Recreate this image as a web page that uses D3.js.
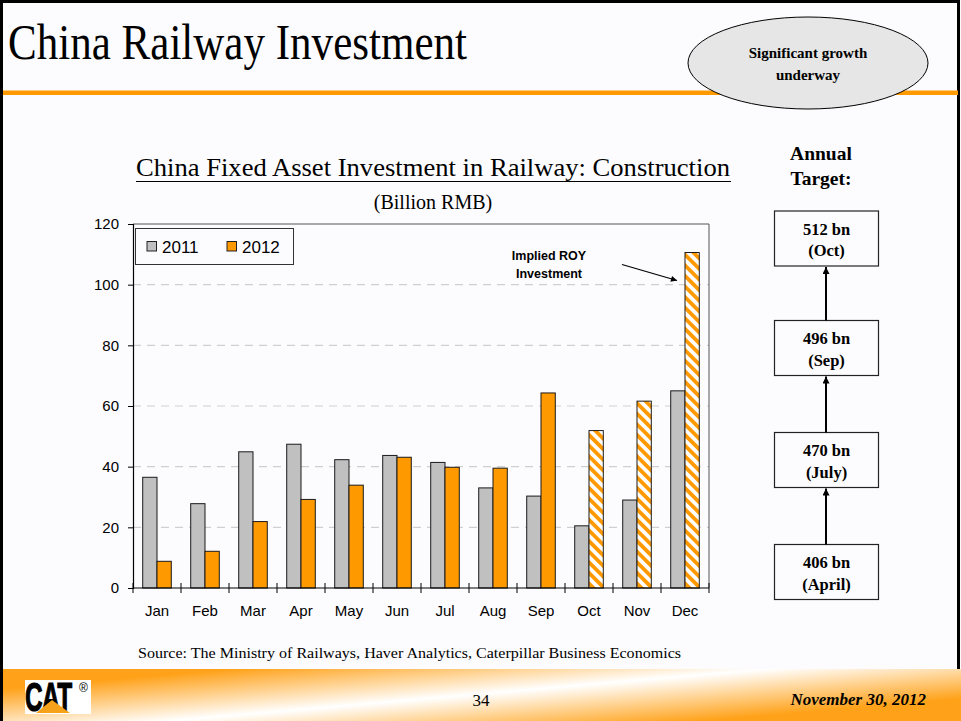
<!DOCTYPE html>
<html>
<head>
<meta charset="utf-8">
<script src="https://cdn.jsdelivr.net/npm/d3@7"></script>
<style>
  html, body { margin: 0; padding: 0; background: #fcfcfe; }
  svg { display: block; }
</style>
</head>
<body>
<svg id="slide" width="961" height="721"></svg>
<script>
// Monthly fixed asset investment in railway construction (billion RMB)
const months = ["Jan", "Feb", "Mar", "Apr", "May", "Jun", "Jul", "Aug", "Sep", "Oct", "Nov", "Dec"];
const seriesNames = ["2011", "2012"];
const values2011 = [36.5, 27.8, 44.9, 47.4, 42.3, 43.7, 41.4, 33.0, 30.3, 20.5, 29.0, 65.0];
const values2012 = [8.8, 12.1, 21.9, 29.2, 33.9, 43.1, 39.8, 39.5, 64.3, 51.9, 61.6, 110.6];
// 2012 months whose value is the implied remainder-of-year investment
const impliedMonths = ["Oct", "Nov", "Dec"];
const yTicks = [0, 20, 40, 60, 80, 100, 120];

// Annual target revisions, newest first
const targetAmounts = ["512 bn", "496 bn", "470 bn", "406 bn"];
const targetDates = ["(Oct)", "(Sep)", "(July)", "(April)"];

const ORANGE = "#ff9900";
const GREY = "#c0c0c0";
const serif = "'Liberation Serif', 'Times New Roman', serif";
const sans = "'Liberation Sans', Arial, sans-serif";

const svg = d3.select("#slide");
const defs = svg.append("defs");

// diagonal orange/white hatching for implied values
const hatch = defs.append("pattern")
  .attr("id", "hatch").attr("patternUnits", "userSpaceOnUse")
  .attr("width", 7.5).attr("height", 7.5)
  .attr("patternTransform", "rotate(-45)");
hatch.append("rect").attr("width", 7.5).attr("height", 7.5).attr("fill", "#ffffff");
hatch.append("rect").attr("width", 3.8).attr("height", 7.5).attr("fill", ORANGE);

// footer band gradient
const fg = defs.append("linearGradient").attr("id", "footerGrad")
  .attr("gradientUnits", "userSpaceOnUse")
  .attr("x1", 476).attr("y1", 648).attr("x2", 484).attr("y2", 740);
fg.append("stop").attr("offset", 0).attr("stop-color", "#ffa21a");
fg.append("stop").attr("offset", 0.5).attr("stop-color", "#ffffff");
fg.append("stop").attr("offset", 1).attr("stop-color", "#ffa21a");

const arrowDefs = [["arrowBig", 7, 9], ["arrowSmall", 6, 7]];
arrowDefs.forEach(([id, w, h]) => {
  defs.append("marker").attr("id", id)
    .attr("viewBox", "0 0 10 10").attr("refX", 10).attr("refY", 5)
    .attr("markerUnits", "userSpaceOnUse")
    .attr("markerWidth", h).attr("markerHeight", w).attr("orient", "auto")
    .append("path").attr("d", "M0,0 L10,5 L0,10 Z").attr("fill", "#000");
});

// ---------- slide frame ----------
svg.append("rect").attr("x", 0).attr("y", 0).attr("width", 961).attr("height", 721).attr("fill", "#fcfcfe");
svg.append("rect").attr("x", 0).attr("y", 669).attr("width", 961).attr("height", 52).attr("fill", "url(#footerGrad)");
svg.append("path").attr("d", "M1.5,721 V1.5 H958.5 V669").attr("fill", "none").attr("stroke", "#000").attr("stroke-width", 3);

svg.append("text").attr("x", 8).attr("y", 59)
  .attr("font-family", serif).attr("font-size", 50)
  .attr("textLength", 459).attr("lengthAdjust", "spacingAndGlyphs")
  .text("China Railway Investment");

svg.append("rect").attr("x", 3).attr("y", 90.5).attr("width", 955).attr("height", 4.5).attr("fill", ORANGE);

svg.append("ellipse").attr("cx", 808).attr("cy", 63).attr("rx", 120).attr("ry", 46)
  .attr("fill", "#e6e6e6").attr("stroke", "#000").attr("stroke-width", 1);
[["Significant growth", 58], ["underway", 80]].forEach(([t, y]) => {
  svg.append("text").attr("x", 808).attr("y", y).attr("text-anchor", "middle")
    .attr("font-family", serif).attr("font-weight", "bold").attr("font-size", 15).text(t);
});

// ---------- chart ----------
const x0 = d3.scaleBand().domain(months).range([133, 709]).padding(0);
const x1 = d3.scaleBand().domain(seriesNames).range([0, x0.bandwidth()]).paddingInner(0).paddingOuter(0.68);
const y = d3.scaleLinear().domain([0, 120]).range([588, 224]);

svg.append("text").attr("x", 433).attr("y", 176).attr("text-anchor", "middle")
  .attr("font-family", serif).attr("font-size", 25.5)
  .attr("textLength", 594).attr("lengthAdjust", "spacingAndGlyphs")
  .text("China Fixed Asset Investment in Railway: Construction");
svg.append("line").attr("x1", 136).attr("x2", 731).attr("y1", 181.5).attr("y2", 181.5)
  .attr("stroke", "#000").attr("stroke-width", 1);
svg.append("text").attr("x", 433).attr("y", 209).attr("text-anchor", "middle")
  .attr("font-family", serif).attr("font-size", 20).text("(Billion RMB)");

// gridlines
svg.append("g").selectAll("line").data(yTicks.filter(v => v > 0 && v < 120)).join("line")
  .attr("x1", 133).attr("x2", 709).attr("y1", d => y(d)).attr("y2", d => y(d))
  .attr("stroke", "#cfcfcf").attr("stroke-width", 1.2).attr("stroke-dasharray", "8,6");

// plot frame top/right
svg.append("path").attr("d", `M133,${y(120)} H709 V${y(0)}`)
  .attr("fill", "none").attr("stroke", "#555").attr("stroke-width", 1);

// bars
const rows = months.map((m, i) => ({ month: m, vals: [
  { key: "2011", month: m, v: values2011[i] },
  { key: "2012", month: m, v: values2012[i] }
]}));
svg.append("g").selectAll("g").data(rows).join("g")
  .attr("transform", d => `translate(${x0(d.month)},0)`)
  .selectAll("rect").data(d => d.vals).join("rect")
  .attr("x", d => x1(d.key)).attr("width", x1.bandwidth())
  .attr("y", d => y(d.v)).attr("height", d => y(0) - y(d.v))
  .attr("fill", d => d.key === "2011" ? GREY : (impliedMonths.includes(d.month) ? "url(#hatch)" : ORANGE))
  .attr("stroke", "#1a1a1a").attr("stroke-width", 1);

// y axis
const yAxis = d3.axisLeft(y).tickValues(yTicks).tickSize(5).tickPadding(9);
const yg = svg.append("g").attr("transform", "translate(133,0)").call(yAxis);
yg.select(".domain").attr("stroke", "#000").attr("stroke-width", 1.2);
yg.selectAll("text").attr("font-family", sans).attr("font-size", 15).attr("fill", "#000");

// x axis with ticks between categories
const xg = svg.append("g").attr("transform", `translate(0,${y(0)})`);
xg.append("line").attr("x1", 133).attr("x2", 709).attr("stroke", "#000").attr("stroke-width", 1.2);
const boundaries = months.map(m => x0(m)).concat([x0(months[months.length - 1]) + x0.bandwidth()]);
xg.selectAll("line.tk").data(boundaries).join("line").attr("class", "tk")
  .attr("x1", d => d).attr("x2", d => d).attr("y1", -5).attr("y2", 5)
  .attr("stroke", "#000").attr("stroke-width", 1);
xg.selectAll("text").data(months).join("text")
  .attr("x", d => x0(d) + x0.bandwidth() / 2).attr("y", 28).attr("text-anchor", "middle")
  .attr("font-family", sans).attr("font-size", 15).text(d => d);

// legend
const lg = svg.append("g");
lg.append("rect").attr("x", 135.5).attr("y", 228.5).attr("width", 158).attr("height", 36)
  .attr("fill", "#fcfcfe").attr("stroke", "#333").attr("stroke-width", 1);
[[GREY, "2011", 147], [ORANGE, "2012", 227]].forEach(([c, t, lx]) => {
  lg.append("rect").attr("x", lx).attr("y", 241.5).attr("width", 9.5).attr("height", 9.5)
    .attr("fill", c).attr("stroke", "#222").attr("stroke-width", 1);
  lg.append("text").attr("x", lx + 15).attr("y", 253).attr("font-family", sans)
    .attr("font-size", 17).text(t);
});

// annotation for implied remainder-of-year investment
[["Implied ROY", 260], ["Investment", 277.5]].forEach(([t, yy]) => {
  svg.append("text").attr("x", 549).attr("y", yy).attr("text-anchor", "middle")
    .attr("font-family", sans).attr("font-weight", "bold").attr("font-size", 12.5).text(t);
});
svg.append("line").attr("x1", 622).attr("y1", 264.5).attr("x2", 677).attr("y2", 280.5)
  .attr("stroke", "#000").attr("stroke-width", 1.2).attr("marker-end", "url(#arrowSmall)");

// ---------- annual target panel ----------
[["Annual", 160], ["Target:", 185]].forEach(([t, yy]) => {
  svg.append("text").attr("x", 821).attr("y", yy).attr("text-anchor", "middle")
    .attr("font-family", serif).attr("font-weight", "bold").attr("font-size", 19.5).text(t);
});
const boxTop = [211, 320.5, 432.5, 544.5];
const boxW = 104, boxH = 55, boxX = 774.5;
targetAmounts.forEach((amt, i) => {
  const g = svg.append("g").attr("transform", `translate(${boxX},${boxTop[i]})`);
  g.append("rect").attr("width", boxW).attr("height", boxH)
    .attr("fill", "#fcfcfe").attr("stroke", "#222").attr("stroke-width", 1.2);
  g.append("text").attr("x", boxW / 2).attr("y", 23.5).attr("text-anchor", "middle")
    .attr("font-family", serif).attr("font-weight", "bold").attr("font-size", 16.5).text(amt);
  g.append("text").attr("x", boxW / 2).attr("y", 45).attr("text-anchor", "middle")
    .attr("font-family", serif).attr("font-weight", "bold").attr("font-size", 16.5).text(targetDates[i]);
});
for (let i = 1; i < boxTop.length; i++) {
  svg.append("line").attr("x1", 826).attr("x2", 826)
    .attr("y1", boxTop[i]).attr("y2", boxTop[i - 1] + boxH + 1)
    .attr("stroke", "#000").attr("stroke-width", 2).attr("marker-end", "url(#arrowBig)");
}

// ---------- footer ----------
svg.append("text").attr("x", 138).attr("y", 658)
  .attr("font-family", serif).attr("font-size", 15)
  .attr("textLength", 543).attr("lengthAdjust", "spacingAndGlyphs")
  .text("Source: The Ministry of Railways, Haver Analytics, Caterpillar Business Economics");

svg.append("text").attr("x", 481).attr("y", 706).attr("text-anchor", "middle")
  .attr("font-family", serif).attr("font-size", 17).text("34");
svg.append("text").attr("x", 926).attr("y", 705).attr("text-anchor", "end")
  .attr("font-family", serif).attr("font-weight", "bold").attr("font-style", "italic")
  .attr("font-size", 17).text("November 30, 2012");

// CAT mark
const logo = svg.append("g");
logo.append("rect").attr("x", 25).attr("y", 680).attr("width", 66).attr("height", 34).attr("fill", "#ffffff");
logo.append("g").attr("transform", "translate(25,711) scale(0.68,1.15)")
  .append("text").attr("x", 0).attr("y", 0)
  .attr("font-family", sans).attr("font-weight", "bold").attr("font-size", 36)
  .attr("letter-spacing", -1).attr("stroke", "#000").attr("stroke-width", 1).text("CAT");
logo.append("path").attr("d", "M36,713 L52,700 L70,713 Z").attr("fill", "#f7a21b");
logo.append("text").attr("x", 79).attr("y", 692)
  .attr("font-family", sans).attr("font-size", 12).text("®");
</script>
</body>
</html>
